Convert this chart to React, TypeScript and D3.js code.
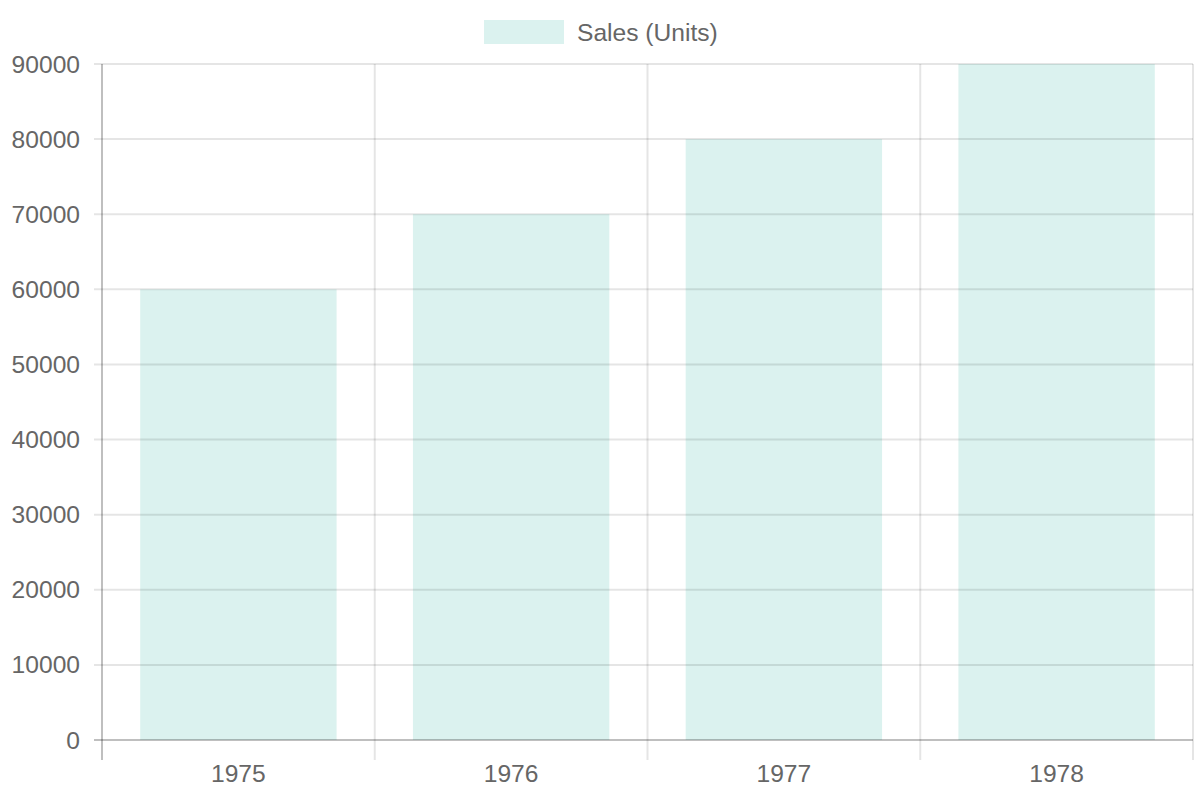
import React from "react";
import * as d3 from "d3";

const categories: string[] = ["1975", "1976", "1977", "1978"];
const sales: number[] = [60000, 70000, 80000, 90000];
const yTicks: number[] = [0, 10000, 20000, 30000, 40000, 50000, 60000, 70000, 80000, 90000];
const seriesLabel = "Sales (Units)";

const W = 1200;
const H = 800;
const left = 102;
const right = 1193;
const top = 64;
const bottom = 740;
const font = "'Liberation Sans', Arial, Helvetica, sans-serif";
const fs = 24.6;
const textColor = "#666";
const gridColor = "rgba(0,0,0,0.1)";
const axisColor = "rgba(0,0,0,0.25)";
const barFill = "rgba(75,192,177,0.2)";

export default function App() {
  const x = d3.scaleBand<string>().domain(categories).range([left, right]).paddingInner(0).paddingOuter(0);
  const y = d3.scaleLinear().domain([0, 90000]).range([bottom, top]);
  const bw = x.bandwidth();
  const barW = bw * 0.72;
  const edges = [...categories.map((c) => x(c) as number), right];

  return (
    <svg width={W} height={H} style={{ position: "absolute", left: 0, top: 0 }} fontFamily={font}>
      <rect x={0} y={0} width={W} height={H} fill="#fff" />
      {/* legend */}
      <rect x={484} y={20} width={80} height={24} fill={barFill} />
      <text x={577} y={32} dominantBaseline="central" fontSize={fs} fill={textColor}>
        {seriesLabel}
      </text>
      {/* bars */}
      {categories.map((c, i) => (
        <rect
          key={c}
          x={(x(c) as number) + (bw - barW) / 2}
          y={y(sales[i])}
          width={barW}
          height={y(0) - y(sales[i])}
          fill={barFill}
        />
      ))}
      {/* horizontal grid */}
      {yTicks.map((t) => (
        <g key={t}>
          {t !== 0 && (
            <line x1={left - 8} x2={right} y1={y(t)} y2={y(t)} stroke={gridColor} strokeWidth={2} />
          )}
          <text
            x={80}
            y={y(t)}
            textAnchor="end"
            dominantBaseline="central"
            fontSize={fs}
            fill={textColor}
          >
            {t}
          </text>
        </g>
      ))}
      {/* vertical grid */}
      {edges.map((e, i) =>
        i === 0 ? null : (
          <line key={i} x1={e} x2={e} y1={top} y2={bottom + 20} stroke={gridColor} strokeWidth={2} />
        )
      )}
      {/* axes */}
      <line x1={left} x2={left} y1={top} y2={bottom + 20} stroke={axisColor} strokeWidth={2} />
      <line x1={left - 8} x2={right} y1={y(0)} y2={y(0)} stroke={axisColor} strokeWidth={2} />
      {/* x labels */}
      {categories.map((c) => (
        <text
          key={c}
          x={(x(c) as number) + bw / 2}
          y={773}
          textAnchor="middle"
          dominantBaseline="central"
          fontSize={fs}
          fill={textColor}
        >
          {c}
        </text>
      ))}
    </svg>
  );
}
